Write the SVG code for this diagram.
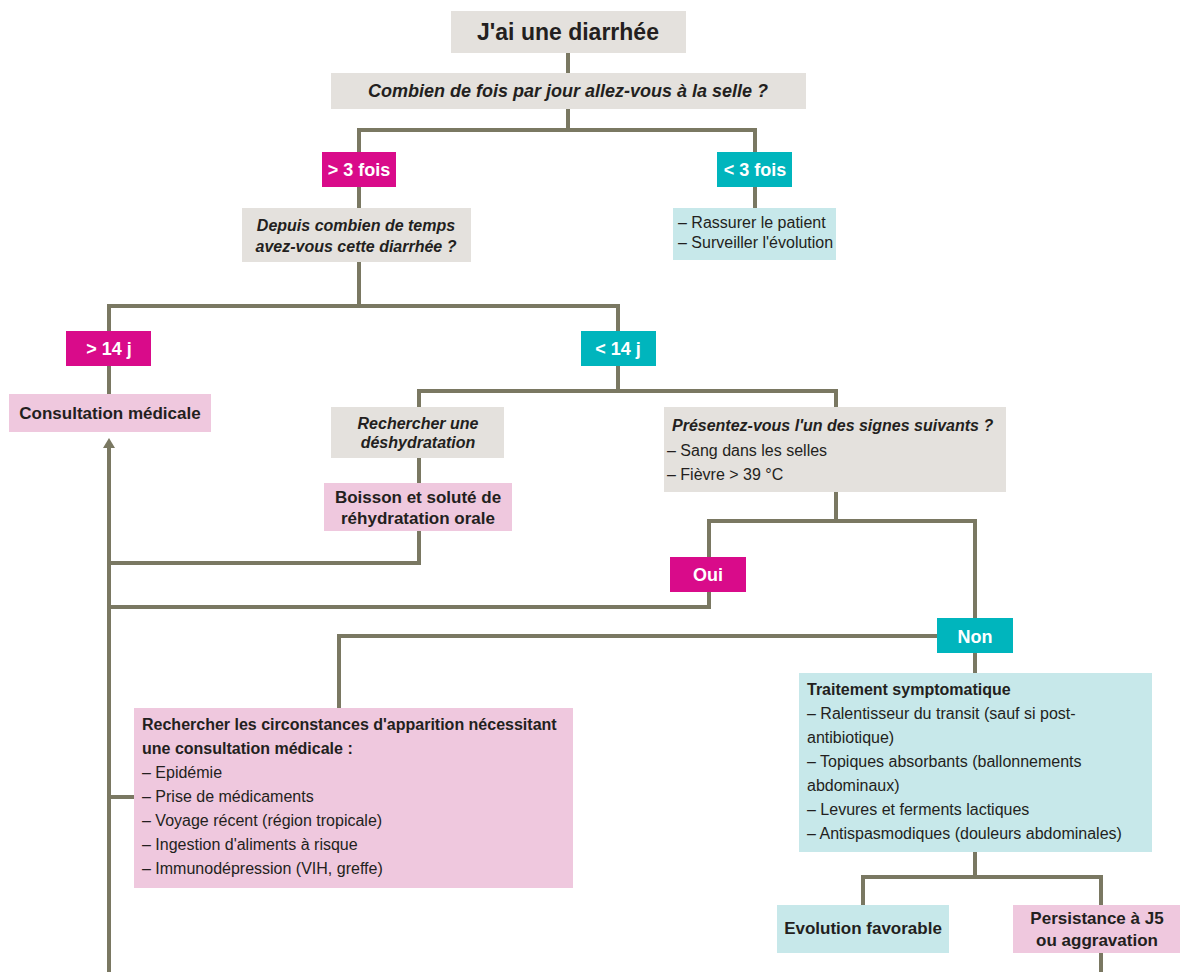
<svg xmlns="http://www.w3.org/2000/svg" width="1180" height="972" viewBox="0 0 1180 972">
<defs>
<style>
.t{font-family:"Liberation Sans",Arial,sans-serif;fill:#231f20}
.b{font-weight:bold}
.i{font-style:italic}
.w{fill:#ffffff;font-weight:bold}
.c{text-anchor:middle}
.gray{fill:#e4e1dd}
.mag{fill:#d90b8a}
.teal{fill:#00b5bd}
.lteal{fill:#c7e8ea}
.pink{fill:#efc8de}
.ln{fill:none;stroke:#7a7862;stroke-width:4}
</style>
<marker id="ah" markerWidth="10" markerHeight="12" refX="1" refY="6" orient="auto" markerUnits="userSpaceOnUse" viewBox="0 0 10 12">
<path d="M0,0 L10,6 L0,12 Z" fill="#7a7862"/>
</marker>
</defs>
<rect width="1180" height="972" fill="#ffffff"/>
<g id="connectors">
<path class="ln" d="M568,53 V73"/>
<path class="ln" d="M568,109 V130 M359,152 V130 H755 V152"/>
<path class="ln" d="M359,187 V208"/>
<path class="ln" d="M755,187 V208"/>
<path class="ln" d="M359,262 V306 M109,331 V306 H618 V331"/>
<path class="ln" d="M109,366 V394"/>
<path class="ln" d="M618,366 V391 M419,407 V391 H836 V407"/>
<path class="ln" d="M419,458 V483"/>
<path class="ln" d="M419,531 V563 H109"/>
<path class="ln" d="M836,492 V521 M709,557 V521 H975 V618"/>
<path class="ln" d="M709,592 V607 H109"/>
<path class="ln" d="M937,636 H339 V708"/>
<path class="ln" d="M975,653 V673"/>
<path class="ln" d="M134,797 H109"/>
<path class="ln" d="M109,972 V447" marker-end="url(#ah)"/>
<path class="ln" d="M975,852 V877 M863,905 V877 H1101 V905"/>
<path class="ln" d="M1101,953 V972"/>
</g>
<g id="n-start">
<rect class="gray" x="451" y="11" width="235" height="42"/>
<text class="t b c" x="568" y="40" font-size="23">J'ai une diarrhée</text>
</g>
<g id="n-q1">
<rect class="gray" x="331" y="73" width="475" height="36"/>
<text class="t b i c" x="568" y="97" font-size="18">Combien de fois par jour allez-vous à la selle ?</text>
</g>
<g id="n-gt3">
<rect class="mag" x="322" y="152" width="74" height="35"/>
<text class="t w c" x="359" y="176" font-size="18">&gt; 3 fois</text>
</g>
<g id="n-lt3">
<rect class="teal" x="717" y="152" width="75" height="35"/>
<text class="t w c" x="755" y="176" font-size="18">&lt; 3 fois</text>
</g>
<g id="n-q2">
<rect class="gray" x="242" y="208" width="229" height="54"/>
<text class="t b i c" x="356" y="231" font-size="16">Depuis combien de temps</text>
<text class="t b i c" x="356" y="252" font-size="16">avez-vous cette diarrhée ?</text>
</g>
<g id="n-rassurer">
<rect class="lteal" x="673" y="208" width="163" height="52"/>
<text class="t" x="678" y="228" font-size="16">– Rassurer le patient</text>
<text class="t" x="678" y="248" font-size="16">– Surveiller l'évolution</text>
</g>
<g id="n-gt14">
<rect class="mag" x="66" y="331" width="85" height="35"/>
<text class="t w c" x="109" y="355" font-size="18">&gt; 14 j</text>
</g>
<g id="n-lt14">
<rect class="teal" x="581" y="331" width="75" height="35"/>
<text class="t w c" x="618" y="355" font-size="18">&lt; 14 j</text>
</g>
<g id="n-consult">
<rect class="pink" x="9" y="394" width="202" height="38"/>
<text class="t b c" x="110" y="419" font-size="17">Consultation médicale</text>
</g>
<g id="n-deshy">
<rect class="gray" x="331" y="407" width="173" height="51"/>
<text class="t b i c" x="418" y="429" font-size="16">Rechercher une</text>
<text class="t b i c" x="418" y="448" font-size="16">déshydratation</text>
</g>
<g id="n-boisson">
<rect class="pink" x="324" y="483" width="188" height="48"/>
<text class="t b c" x="418" y="503" font-size="17">Boisson et soluté de</text>
<text class="t b c" x="418" y="524" font-size="17">réhydratation orale</text>
</g>
<g id="n-signes">
<rect class="gray" x="664" y="407" width="342" height="85"/>
<text class="t b i" x="672" y="431" font-size="16">Présentez-vous l'un des signes suivants ?</text>
<text class="t" x="667" y="456" font-size="16">– Sang dans les selles</text>
<text class="t" x="667" y="480" font-size="16">– Fièvre &gt; 39 °C</text>
</g>
<g id="n-oui">
<rect class="mag" x="670" y="557" width="76" height="35"/>
<text class="t w c" x="708" y="581" font-size="18">Oui</text>
</g>
<g id="n-non">
<rect class="teal" x="937" y="618" width="76" height="35"/>
<text class="t w c" x="975" y="643" font-size="18">Non</text>
</g>
<g id="n-traitement">
<rect class="lteal" x="799" y="673" width="353" height="179"/>
<text class="t b" x="807" y="695" font-size="16">Traitement symptomatique</text>
<text class="t" x="807" y="719" font-size="16">– Ralentisseur du transit (sauf si post-</text>
<text class="t" x="807" y="743" font-size="16">antibiotique)</text>
<text class="t" x="807" y="767" font-size="16">– Topiques absorbants (ballonnements</text>
<text class="t" x="807" y="791" font-size="16">abdominaux)</text>
<text class="t" x="807" y="815" font-size="16">– Levures et ferments lactiques</text>
<text class="t" x="807" y="839" font-size="16">– Antispasmodiques (douleurs abdominales)</text>
</g>
<g id="n-circonstances">
<rect class="pink" x="134" y="708" width="439" height="180"/>
<text class="t b" x="142" y="730" font-size="16">Rechercher les circonstances d'apparition nécessitant</text>
<text class="t b" x="142" y="754" font-size="16">une consultation médicale :</text>
<text class="t" x="142" y="778" font-size="16">– Epidémie</text>
<text class="t" x="142" y="802" font-size="16">– Prise de médicaments</text>
<text class="t" x="142" y="826" font-size="16">– Voyage récent (région tropicale)</text>
<text class="t" x="142" y="850" font-size="16">– Ingestion d'aliments à risque</text>
<text class="t" x="142" y="874" font-size="16">– Immunodépression (VIH, greffe)</text>
</g>
<g id="n-evolution">
<rect class="lteal" x="777" y="905" width="172" height="48"/>
<text class="t b c" x="863" y="934" font-size="17">Evolution favorable</text>
</g>
<g id="n-persistance">
<rect class="pink" x="1013" y="905" width="167" height="48"/>
<text class="t b c" x="1097" y="924" font-size="17">Persistance à J5</text>
<text class="t b c" x="1097" y="946" font-size="17">ou aggravation</text>
</g>
</svg>
